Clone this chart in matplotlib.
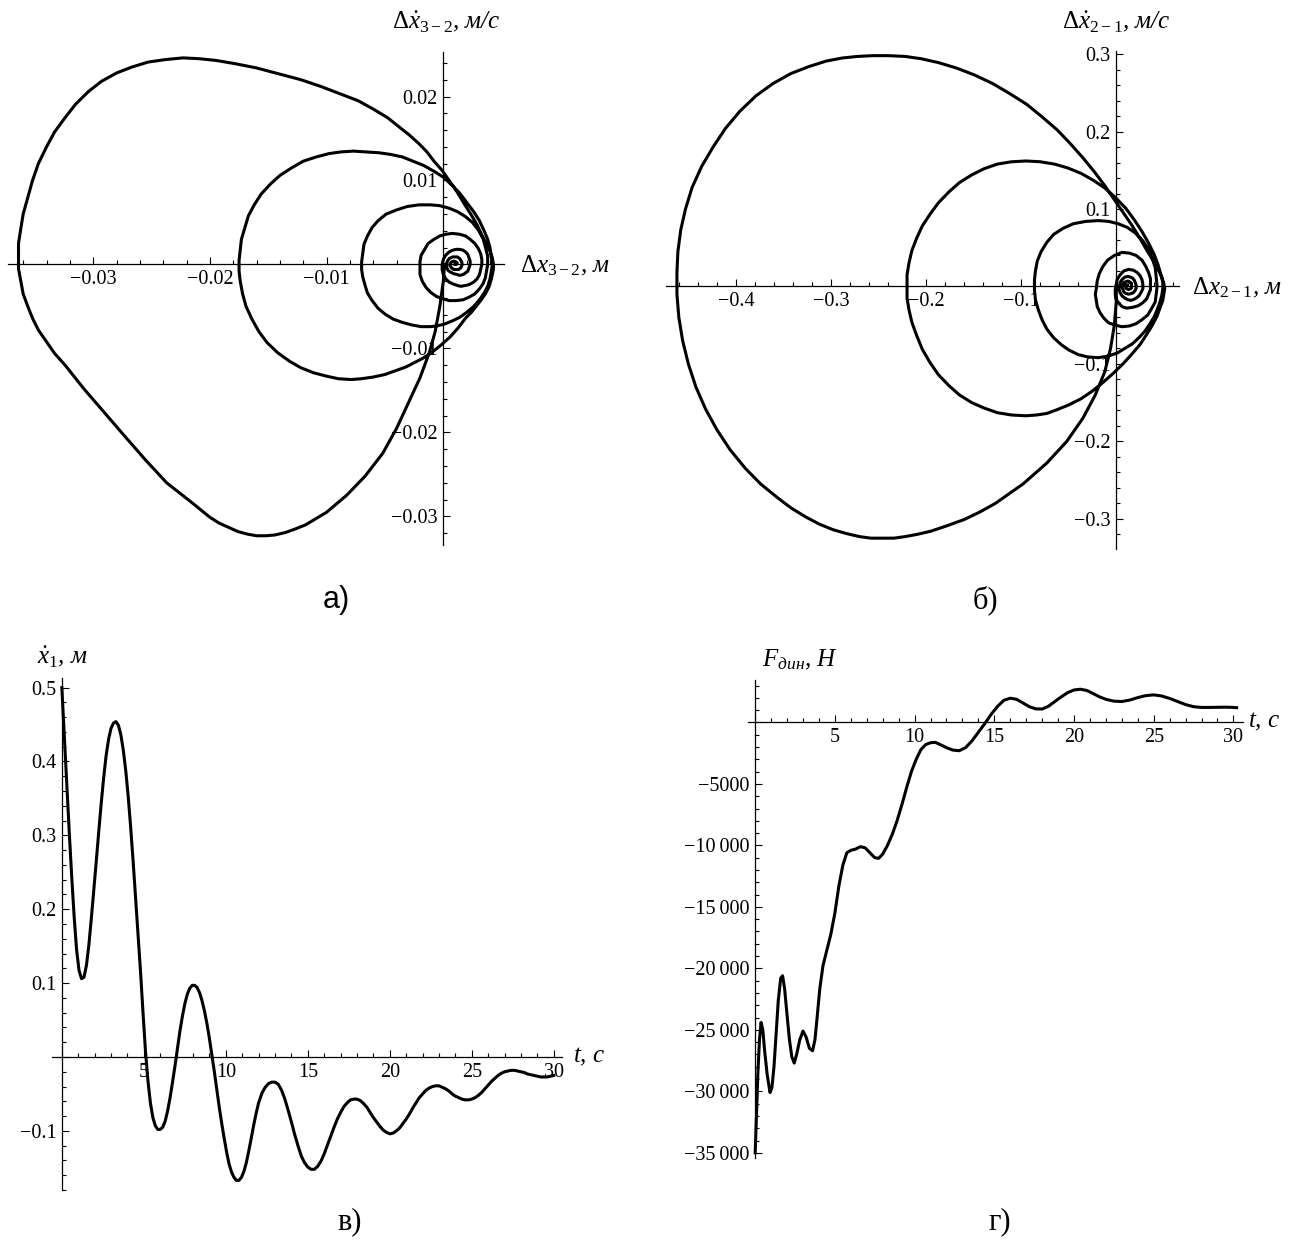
import matplotlib
matplotlib.use("Agg")
import matplotlib.pyplot as plt
from matplotlib.ticker import MultipleLocator, FuncFormatter

plt.rcParams['font.family'] = ['Liberation Serif', 'DejaVu Serif']
plt.rcParams['mathtext.fontset'] = 'custom'
plt.rcParams['mathtext.rm'] = 'Liberation Serif'
plt.rcParams['mathtext.it'] = 'Liberation Serif:italic'

# phase portrait a): (dx32, dv32) along the trajectory
phase_a = [
    (0.0001, 0.0000), (0.0000, -0.0020), (-0.0003, -0.0050), (-0.0007, -0.0080),
    (-0.0012, -0.0105), (-0.0020, -0.0135), (-0.0029, -0.0162), (-0.0040, -0.0195),
    (-0.0052, -0.0225), (-0.0067, -0.0252), (-0.0083, -0.0275), (-0.0100, -0.0295),
    (-0.0118, -0.0310), (-0.0127, -0.0315), (-0.0135, -0.0319), (-0.0144, -0.0322),
    (-0.0152, -0.0323), (-0.0160, -0.0323), (-0.0168, -0.0321), (-0.0176, -0.0318),
    (-0.0184, -0.0313), (-0.0192, -0.0308), (-0.0200, -0.0301), (-0.0215, -0.0284),
    (-0.0226, -0.0272), (-0.0237, -0.0260), (-0.0255, -0.0233), (-0.0272, -0.0206),
    (-0.0290, -0.0177), (-0.0308, -0.0148), (-0.0316, -0.0134), (-0.0324, -0.0120),
    (-0.0333, -0.0106), (-0.0340, -0.0092), (-0.0347, -0.0078), (-0.0352, -0.0064),
    (-0.0356, -0.0050), (-0.0360, -0.0035), (-0.0362, -0.0020), (-0.0364, -0.0005),
    (-0.0364, 0.0010), (-0.0364, 0.0025), (-0.0362, 0.0043), (-0.0360, 0.0060),
    (-0.0356, 0.0080), (-0.0352, 0.0100), (-0.0347, 0.0120), (-0.0340, 0.0140),
    (-0.0333, 0.0158), (-0.0324, 0.0175), (-0.0315, 0.0191), (-0.0304, 0.0206),
    (-0.0293, 0.0218), (-0.0280, 0.0228), (-0.0267, 0.0235), (-0.0253, 0.0241),
    (-0.0238, 0.0244), (-0.0223, 0.0246), (-0.0209, 0.0245), (-0.0195, 0.0243),
    (-0.0178, 0.0239), (-0.0160, 0.0234), (-0.0141, 0.0227), (-0.0122, 0.0220),
    (-0.0105, 0.0212), (-0.0088, 0.0203), (-0.0073, 0.0195), (-0.0060, 0.0185),
    (-0.0048, 0.0175), (-0.0038, 0.0164), (-0.0029, 0.0154), (-0.0021, 0.0144),
    (-0.0014, 0.0134), (-0.0008, 0.0123), (-0.0001, 0.0112), (0.0005, 0.0100),
    (0.0012, 0.0086), (0.0018, 0.0072), (0.0024, 0.0059), (0.0029, 0.0047),
    (0.0033, 0.0035), (0.0037, 0.0024), (0.0040, 0.0016), (0.0042, 0.0008),
    (0.0043, 0.0000), (0.0043, -0.0005), (0.0042, -0.0012), (0.0041, -0.0018),
    (0.0039, -0.0027), (0.0036, -0.0035), (0.0032, -0.0043), (0.0028, -0.0050),
    (0.0024, -0.0057), (0.0019, -0.0064), (0.0013, -0.0075), (0.0006, -0.0086),
    (-0.0002, -0.0096), (-0.0011, -0.0106), (-0.0018, -0.0112), (-0.0025, -0.0117),
    (-0.0032, -0.0122), (-0.0040, -0.0126), (-0.0050, -0.0131), (-0.0060, -0.0134),
    (-0.0070, -0.0136), (-0.0079, -0.0137), (-0.0090, -0.0136), (-0.0100, -0.0133),
    (-0.0111, -0.0129), (-0.0122, -0.0123), (-0.0132, -0.0115), (-0.0142, -0.0105),
    (-0.0151, -0.0093), (-0.0158, -0.0080), (-0.0164, -0.0065), (-0.0169, -0.0050),
    (-0.0172, -0.0035), (-0.0174, -0.0020), (-0.0175, -0.0008), (-0.0175, 0.0005),
    (-0.0174, 0.0018), (-0.0173, 0.0030), (-0.0170, 0.0044), (-0.0167, 0.0058),
    (-0.0162, 0.0071), (-0.0156, 0.0084), (-0.0148, 0.0096), (-0.0140, 0.0106),
    (-0.0130, 0.0115), (-0.0120, 0.0123), (-0.0109, 0.0128), (-0.0098, 0.0132),
    (-0.0088, 0.0134), (-0.0077, 0.0135), (-0.0066, 0.0134), (-0.0055, 0.0133),
    (-0.0045, 0.0131), (-0.0035, 0.0128), (-0.0026, 0.0123), (-0.0017, 0.0118),
    (-0.0008, 0.0111), (0.0000, 0.0104), (0.0007, 0.0095), (0.0014, 0.0085),
    (0.0020, 0.0074), (0.0026, 0.0063), (0.0031, 0.0052), (0.0035, 0.0040),
    (0.0038, 0.0030), (0.0040, 0.0020), (0.0041, 0.0010), (0.0042, 0.0000),
    (0.0041, -0.0009), (0.0040, -0.0017), (0.0038, -0.0026), (0.0035, -0.0034),
    (0.0031, -0.0042), (0.0026, -0.0050), (0.0020, -0.0057), (0.0014, -0.0063),
    (0.0008, -0.0067), (0.0001, -0.0071), (-0.0005, -0.0073), (-0.0011, -0.0074),
    (-0.0019, -0.0074), (-0.0027, -0.0072), (-0.0035, -0.0069), (-0.0043, -0.0065),
    (-0.0050, -0.0059), (-0.0056, -0.0052), (-0.0061, -0.0043), (-0.0065, -0.0034),
    (-0.0067, -0.0025), (-0.0069, -0.0015), (-0.0070, -0.0006), (-0.0070, 0.0003),
    (-0.0069, 0.0014), (-0.0068, 0.0024), (-0.0065, 0.0034), (-0.0061, 0.0044),
    (-0.0056, 0.0052), (-0.0049, 0.0060), (-0.0040, 0.0065), (-0.0031, 0.0069),
    (-0.0021, 0.0071), (-0.0011, 0.0071), (-0.0003, 0.0070), (0.0005, 0.0067),
    (0.0012, 0.0063), (0.0019, 0.0057), (0.0025, 0.0050), (0.0030, 0.0041),
    (0.0034, 0.0031), (0.0036, 0.0021), (0.0038, 0.0010), (0.0038, 0.0000),
    (0.0037, -0.0008), (0.0036, -0.0016), (0.0034, -0.0023), (0.0031, -0.0029),
    (0.0027, -0.0035), (0.0022, -0.0039), (0.0017, -0.0042), (0.0011, -0.0043),
    (0.0005, -0.0043), (0.0000, -0.0041), (-0.0006, -0.0038), (-0.0011, -0.0033),
    (-0.0015, -0.0027), (-0.0018, -0.0020), (-0.0020, -0.0012), (-0.0020, -0.0005),
    (-0.0020, 0.0003), (-0.0019, 0.0011), (-0.0016, 0.0018), (-0.0013, 0.0025),
    (-0.0008, 0.0030), (-0.0003, 0.0034), (0.0002, 0.0036), (0.0008, 0.0037),
    (0.0014, 0.0036), (0.0019, 0.0034), (0.0023, 0.0030), (0.0027, 0.0025),
    (0.0030, 0.0019), (0.0032, 0.0013), (0.0033, 0.0006), (0.0033, 0.0000),
    (0.0032, -0.0006), (0.0031, -0.0012), (0.0029, -0.0017), (0.0026, -0.0021),
    (0.0022, -0.0024), (0.0019, -0.0025), (0.0015, -0.0026), (0.0012, -0.0025),
    (0.0008, -0.0023), (0.0005, -0.0021), (0.0002, -0.0017), (0.0000, -0.0012),
    (-0.0001, -0.0006), (-0.0001, 0.0000), (0.0000, 0.0006), (0.0002, 0.0011),
    (0.0005, 0.0015), (0.0008, 0.0017), (0.0011, 0.0018), (0.0014, 0.0018),
    (0.0017, 0.0017), (0.0019, 0.0015), (0.0021, 0.0012), (0.0022, 0.0008),
    (0.0023, 0.0004), (0.0023, 0.0000), (0.0022, -0.0004), (0.0021, -0.0008),
    (0.0019, -0.0010), (0.0017, -0.0012), (0.0014, -0.0013), (0.0012, -0.0012),
    (0.0009, -0.0011), (0.0006, -0.0009), (0.0004, -0.0007), (0.0003, -0.0004),
    (0.0003, 0.0000), (0.0003, 0.0002), (0.0004, 0.0005), (0.0005, 0.0007),
    (0.0008, 0.0009), (0.0010, 0.0009), (0.0012, 0.0009), (0.0014, 0.0007),
    (0.0015, 0.0005), (0.0016, 0.0002), (0.0016, -0.0001), (0.0015, -0.0004),
    (0.0013, -0.0006), (0.0011, -0.0006), (0.0009, -0.0006), (0.0007, -0.0004),
    (0.0006, -0.0002), (0.0006, 0.0001), (0.0007, 0.0003), (0.0009, 0.0004),
    (0.0011, 0.0003), (0.0012, 0.0002), (0.0011, 0.0000), (0.0010, 0.0000),
]

# phase portrait b): (dx21, dv21)
phase_b = [
    (0.000, 0.000), (0.000, -0.020), (-0.002, -0.050), (-0.006, -0.080),
    (-0.012, -0.110), (-0.022, -0.140), (-0.035, -0.170), (-0.052, -0.200),
    (-0.073, -0.228), (-0.098, -0.255), (-0.127, -0.280), (-0.143, -0.291),
    (-0.160, -0.301), (-0.178, -0.309), (-0.195, -0.316), (-0.209, -0.320),
    (-0.222, -0.323), (-0.234, -0.325), (-0.245, -0.325), (-0.258, -0.325),
    (-0.270, -0.323), (-0.284, -0.319), (-0.298, -0.314), (-0.312, -0.307),
    (-0.326, -0.298), (-0.342, -0.286), (-0.357, -0.272), (-0.374, -0.255),
    (-0.390, -0.235), (-0.406, -0.211), (-0.420, -0.185), (-0.432, -0.158),
    (-0.442, -0.130), (-0.450, -0.100), (-0.456, -0.070), (-0.460, -0.040),
    (-0.462, -0.010), (-0.462, 0.018), (-0.461, 0.045), (-0.458, 0.073),
    (-0.453, 0.100), (-0.446, 0.128), (-0.436, 0.155), (-0.424, 0.180),
    (-0.411, 0.204), (-0.396, 0.226), (-0.379, 0.246), (-0.361, 0.262),
    (-0.342, 0.275), (-0.323, 0.284), (-0.305, 0.291), (-0.288, 0.295),
    (-0.272, 0.297), (-0.256, 0.298), (-0.240, 0.298), (-0.222, 0.297),
    (-0.205, 0.294), (-0.187, 0.289), (-0.168, 0.282), (-0.149, 0.273),
    (-0.130, 0.262), (-0.112, 0.249), (-0.094, 0.235), (-0.078, 0.219),
    (-0.062, 0.202), (-0.048, 0.184), (-0.035, 0.166), (-0.023, 0.148),
    (-0.012, 0.130), (-0.002, 0.112), (0.008, 0.094), (0.017, 0.078),
    (0.025, 0.062), (0.032, 0.047), (0.039, 0.033), (0.044, 0.022),
    (0.048, 0.012), (0.050, 0.004), (0.051, -0.003), (0.050, -0.010),
    (0.049, -0.018), (0.046, -0.028), (0.043, -0.038), (0.038, -0.050),
    (0.032, -0.062), (0.025, -0.075), (0.016, -0.088), (0.007, -0.100),
    (-0.003, -0.112), (-0.014, -0.124), (-0.025, -0.135), (-0.037, -0.145),
    (-0.050, -0.153), (-0.062, -0.159), (-0.073, -0.164), (-0.084, -0.166),
    (-0.095, -0.167), (-0.110, -0.166), (-0.125, -0.163), (-0.139, -0.157),
    (-0.152, -0.150), (-0.165, -0.140), (-0.176, -0.128), (-0.187, -0.114),
    (-0.196, -0.098), (-0.204, -0.081), (-0.210, -0.063), (-0.215, -0.046),
    (-0.218, -0.030), (-0.220, -0.015), (-0.220, 0.000), (-0.220, 0.015),
    (-0.218, 0.030), (-0.215, 0.046), (-0.210, 0.062), (-0.204, 0.078),
    (-0.196, 0.093), (-0.187, 0.108), (-0.176, 0.122), (-0.165, 0.134),
    (-0.152, 0.144), (-0.139, 0.152), (-0.125, 0.158), (-0.110, 0.161),
    (-0.095, 0.162), (-0.080, 0.161), (-0.065, 0.158), (-0.051, 0.153),
    (-0.037, 0.146), (-0.024, 0.137), (-0.012, 0.127), (-0.001, 0.115),
    (0.010, 0.101), (0.019, 0.086), (0.027, 0.071), (0.034, 0.056),
    (0.040, 0.041), (0.044, 0.028), (0.047, 0.015), (0.049, 0.005),
    (0.049, -0.002), (0.048, -0.011), (0.046, -0.020), (0.043, -0.030),
    (0.040, -0.039), (0.035, -0.049), (0.030, -0.058), (0.024, -0.066),
    (0.017, -0.074), (0.009, -0.080), (0.001, -0.086), (-0.009, -0.090),
    (-0.019, -0.092), (-0.030, -0.091), (-0.040, -0.088), (-0.050, -0.082),
    (-0.058, -0.075), (-0.066, -0.066), (-0.073, -0.055), (-0.078, -0.043),
    (-0.082, -0.030), (-0.085, -0.017), (-0.086, -0.005), (-0.086, 0.008),
    (-0.085, 0.020), (-0.083, 0.033), (-0.079, 0.045), (-0.073, 0.057),
    (-0.066, 0.067), (-0.056, 0.075), (-0.045, 0.081), (-0.032, 0.084),
    (-0.019, 0.085), (-0.008, 0.084), (0.002, 0.081), (0.012, 0.076),
    (0.020, 0.069), (0.028, 0.059), (0.034, 0.048), (0.038, 0.036),
    (0.041, 0.024), (0.042, 0.012), (0.043, 0.000), (0.042, -0.010),
    (0.041, -0.020), (0.037, -0.029), (0.033, -0.037), (0.027, -0.043),
    (0.021, -0.048), (0.014, -0.051), (0.006, -0.052), (-0.001, -0.050),
    (-0.008, -0.047), (-0.013, -0.041), (-0.017, -0.034), (-0.020, -0.026),
    (-0.021, -0.018), (-0.022, -0.010), (-0.021, -0.003), (-0.020, 0.007),
    (-0.018, 0.016), (-0.014, 0.026), (-0.009, 0.034), (-0.002, 0.040),
    (0.006, 0.044), (0.014, 0.043), (0.021, 0.040), (0.027, 0.034),
    (0.031, 0.026), (0.034, 0.018), (0.036, 0.010), (0.036, 0.003),
    (0.036, -0.004), (0.034, -0.010), (0.032, -0.016), (0.028, -0.021),
    (0.023, -0.025), (0.017, -0.027), (0.011, -0.028), (0.006, -0.026),
    (0.003, -0.022), (0.000, -0.017), (-0.001, -0.011), (-0.001, -0.004),
    (0.000, 0.002), (0.001, 0.009), (0.004, 0.015), (0.008, 0.020),
    (0.013, 0.022), (0.018, 0.021), (0.022, 0.018), (0.025, 0.014),
    (0.027, 0.009), (0.028, 0.003), (0.028, -0.003), (0.026, -0.008),
    (0.024, -0.012), (0.021, -0.015), (0.018, -0.017), (0.015, -0.018),
    (0.012, -0.017), (0.009, -0.015), (0.006, -0.012), (0.004, -0.008),
    (0.003, -0.004), (0.003, 0.000), (0.004, 0.004), (0.005, 0.007),
    (0.007, 0.010), (0.009, 0.012), (0.012, 0.013), (0.015, 0.012),
    (0.017, 0.011), (0.019, 0.008), (0.020, 0.005), (0.021, 0.001),
    (0.021, -0.002), (0.020, -0.005), (0.018, -0.008), (0.016, -0.009),
    (0.013, -0.010), (0.010, -0.009), (0.008, -0.007), (0.007, -0.004),
    (0.006, -0.001), (0.007, 0.002), (0.008, 0.005), (0.010, 0.006),
    (0.012, 0.007), (0.014, 0.006), (0.016, 0.004), (0.016, 0.001),
    (0.016, -0.002), (0.015, -0.003), (0.013, -0.004), (0.011, -0.003),
    (0.010, -0.002), (0.010, 0.000), (0.010, 0.002), (0.012, 0.002),
]

# c) velocity of mass 1
t_c = [0.0, 0.15, 0.3, 0.45, 0.6, 0.75, 0.9, 1.05, 1.2, 1.35, 1.5, 1.65, 1.8,
       1.95, 2.1, 2.25, 2.4, 2.55, 2.7, 2.85, 3.0, 3.15, 3.3, 3.45, 3.6, 3.75,
       3.9, 4.05, 4.2, 4.35, 4.5, 4.65, 4.8, 4.95, 5.1, 5.25, 5.4, 5.55, 5.7,
       5.85, 6.0, 6.15, 6.3, 6.45, 6.6, 6.75, 6.9, 7.05, 7.2, 7.35, 7.5, 7.65,
       7.8, 7.95, 8.1, 8.25, 8.4, 8.55, 8.7, 8.85, 9.0, 9.15, 9.3, 9.45, 9.6,
       9.75, 9.9, 10.05, 10.2, 10.35, 10.5, 10.65, 10.8, 10.95, 11.1, 11.25,
       11.4, 11.55, 11.7, 11.85, 12.0, 12.2, 12.4, 12.6, 12.8, 13.0, 13.2, 13.4,
       13.6, 13.8, 14.0, 14.2, 14.4, 14.6, 14.8, 15.0, 15.2, 15.4, 15.6, 15.8,
       16.0, 16.2, 16.4, 16.6, 16.8, 17.0, 17.2, 17.4, 17.6, 17.8, 18.0, 18.2,
       18.4, 18.6, 18.8, 19.0, 19.2, 19.4, 19.6, 19.8, 20.0, 20.2, 20.4, 20.6,
       20.8, 21.0, 21.2, 21.4, 21.6, 21.8, 22.0, 22.2, 22.4, 22.6, 22.8, 23.0,
       23.2, 23.4, 23.6, 23.8, 24.0, 24.2, 24.4, 24.6, 24.8, 25.0, 25.2, 25.4,
       25.6, 25.8, 26.0, 26.2, 26.4, 26.6, 26.8, 27.0, 27.2, 27.4, 27.6, 27.8,
       28.0, 28.2, 28.4, 28.6, 28.8, 29.0, 29.2, 29.4, 29.6, 29.8, 30.0]
v_c = [0.50, 0.435, 0.37, 0.305, 0.245, 0.19, 0.145, 0.117, 0.106, 0.108,
       0.124, 0.152, 0.188, 0.226, 0.265, 0.305, 0.343, 0.378, 0.408, 0.43,
       0.445, 0.452, 0.454, 0.449, 0.436, 0.415, 0.387, 0.352, 0.31, 0.264,
       0.215, 0.165, 0.115, 0.06, 0.008, -0.032, -0.062, -0.082, -0.093,
       -0.098, -0.098, -0.095, -0.087, -0.073, -0.055, -0.034, -0.012, 0.012,
       0.035, 0.055, 0.072, 0.085, 0.093, 0.097, 0.097, 0.094, 0.087, 0.076,
       0.062, 0.045, 0.025, 0.003, -0.02, -0.044, -0.068, -0.09, -0.11, -0.129,
       -0.145, -0.156, -0.163, -0.167, -0.167, -0.163, -0.155, -0.143, -0.127,
       -0.11, -0.092, -0.076, -0.062, -0.049, -0.041, -0.036, -0.034, -0.034,
       -0.037, -0.045, -0.057, -0.072, -0.088, -0.105, -0.12, -0.134, -0.143,
       -0.149, -0.152, -0.152, -0.148, -0.141, -0.131, -0.119, -0.107, -0.095,
       -0.084, -0.075, -0.067, -0.062, -0.058, -0.057, -0.057, -0.059, -0.063,
       -0.068, -0.075, -0.082, -0.088, -0.094, -0.099, -0.102, -0.104, -0.103,
       -0.1, -0.096, -0.09, -0.084, -0.077, -0.069, -0.062, -0.055, -0.05,
       -0.045, -0.042, -0.04, -0.039, -0.039, -0.041, -0.043, -0.046, -0.05,
       -0.053, -0.055, -0.057, -0.058, -0.058, -0.057, -0.055, -0.052, -0.048,
       -0.043, -0.038, -0.033, -0.029, -0.025, -0.022, -0.02, -0.019, -0.018,
       -0.018, -0.019, -0.02, -0.021, -0.023, -0.024, -0.025, -0.026, -0.027,
       -0.027, -0.027, -0.026, -0.025]

# d) dynamic force
t_d = [0.0, 0.08, 0.17, 0.27, 0.37, 0.48, 0.6, 0.75, 0.93, 1.05, 1.18, 1.32,
       1.45, 1.6, 1.72, 1.85, 2.0, 2.15, 2.3, 2.45, 2.6, 2.8, 3.0, 3.2, 3.4,
       3.6, 3.75, 3.9, 4.05, 4.25, 4.5, 4.75, 5.0, 5.25, 5.5, 5.75, 6.0, 6.3,
       6.6, 6.9, 7.2, 7.5, 7.75, 8.0, 8.3, 8.6, 8.9, 9.2, 9.5, 9.8, 10.1, 10.4,
       10.7, 11.0, 11.3, 11.6, 12.0, 12.4, 12.8, 13.2, 13.6, 14.0, 14.4, 14.8,
       15.2, 15.6, 16.0, 16.4, 16.8, 17.2, 17.6, 18.0, 18.4, 18.8, 19.2, 19.6,
       20.0, 20.4, 20.8, 21.2, 21.6, 22.0, 22.5, 23.0, 23.5, 24.0, 24.5, 25.0,
       25.5, 26.0, 26.5, 27.0, 27.5, 28.0, 28.5, 29.0, 29.5, 30.0, 30.2]
f_d = [-35000, -32000, -28500, -25800, -24400, -25000, -26800, -28600, -30100,
       -29700, -28000, -25200, -22600, -20800, -20600, -21700, -23800, -25800,
       -27200, -27700, -27000, -25800, -25100, -25600, -26500, -26700, -25800,
       -23800, -21700, -19800, -18500, -17200, -15500, -13300, -11600, -10600,
       -10400, -10300, -10100, -10200, -10600, -11000, -11050, -10700, -10000,
       -9100, -8000, -6700, -5300, -4000, -3000, -2200, -1800, -1650, -1620,
       -1800, -2050, -2250, -2300, -2050, -1500, -800, -100, 650, 1300, 1800,
       1970, 1880, 1580, 1280, 1100, 1090, 1320, 1700, 2080, 2420, 2640, 2700,
       2600, 2350, 2080, 1880, 1730, 1700, 1820, 2020, 2180, 2240, 2150, 1950,
       1700, 1450, 1280, 1220, 1220, 1230, 1240, 1220, 1200]

W, H = 1307, 1256


def box(x0, x1, y0, y1):
    # pixel box (top origin) -> figure fraction rect
    return [x0 / W, 1 - y1 / H, (x1 - x0) / W, (y1 - y0) / H]


def fmt_num(dec, group=False):
    def f(v, pos):
        if abs(v) < 1e-12:
            return ''
        if group:
            s = '%d' % abs(round(v))
            if len(s) > 4:
                s = s[:-3] + '\u2009' + s[-3:]
        else:
            s = '%.*f' % (dec, abs(v))
        return ('\u2212' if v < 0 else '') + s
    return FuncFormatter(f)


def style_axes(ax, xlim, ylim, xmaj, xmin, ymaj, ymin, xfmt, yfmt):
    ax.set_xlim(*xlim)
    ax.set_ylim(*ylim)
    ax.spines['left'].set_position('zero')
    ax.spines['bottom'].set_position('zero')
    ax.spines['top'].set_visible(False)
    ax.spines['right'].set_visible(False)
    for s in ('left', 'bottom'):
        ax.spines[s].set_linewidth(0.9)
    ax.xaxis.set_major_locator(MultipleLocator(xmaj))
    ax.xaxis.set_minor_locator(MultipleLocator(xmin))
    ax.yaxis.set_major_locator(MultipleLocator(ymaj))
    ax.yaxis.set_minor_locator(MultipleLocator(ymin))
    ax.xaxis.set_major_formatter(xfmt)
    ax.yaxis.set_major_formatter(yfmt)
    ax.tick_params(which='both', direction='in', width=0.8, colors='black',
                   labelsize=14.5, pad=4)
    ax.tick_params(which='major', length=5)
    ax.tick_params(which='minor', length=3)
    ax.patch.set_alpha(0)


fig = plt.figure(figsize=(W / 100, H / 100), dpi=100)

# a)
ax_a = fig.add_axes(box(8, 504, 52, 545))
ax_a.plot([p[0] for p in phase_a], [p[1] for p in phase_a], color='black',
          lw=2.2, zorder=3, solid_joinstyle='round')
style_axes(ax_a, (-0.0373, 0.0052), (-0.0334, 0.0253), 0.01, 0.002, 0.01, 0.002,
           fmt_num(2), fmt_num(2))

# b)
ax_b = fig.add_axes(box(666, 1179, 51, 549))
ax_b.plot([p[0] for p in phase_b], [p[1] for p in phase_b], color='black',
          lw=2.2, zorder=3, solid_joinstyle='round')
style_axes(ax_b, (-0.4735, 0.066), (-0.339, 0.304), 0.1, 0.02, 0.1, 0.02,
           fmt_num(1), fmt_num(1))

# c)
ax_c = fig.add_axes(box(52, 562, 678, 1190))
ax_c.plot(t_c, v_c, color='black', lw=2.2, zorder=3, solid_joinstyle='round')
style_axes(ax_c, (-0.6, 30.5), (-0.18, 0.513), 5, 1, 0.1, 0.02,
           fmt_num(0), fmt_num(1))

# d)
ax_d = fig.add_axes(box(748, 1243, 680, 1158))
ax_d.plot(t_d, f_d, color='black', lw=2.2, zorder=3, solid_joinstyle='round')
style_axes(ax_d, (-0.45, 30.6), (-35420, 3450), 5, 1, 5000, 1000,
           fmt_num(0), fmt_num(0, group=True))


def ftext(x, y, s, **kw):
    fig.text(x / W, 1 - y / H, s, **kw)


lab = dict(fontsize=18, style='italic', va='center')
ftext(446, 22, r'$\Delta\dot{x}_{3-2}$, м/с', ha='center', **lab)
ftext(520, 266, r'$\Delta x_{3-2}$, м', ha='left', **lab)
ftext(1116, 22, r'$\Delta\dot{x}_{2-1}$, м/с', ha='center', **lab)
ftext(1192, 288, r'$\Delta x_{2-1}$, м', ha='left', **lab)
ftext(62, 657, r'$\dot{x}_1$, м', ha='center', **lab)
ftext(573, 1057, r'$t$, с', ha='left', **lab)
ftext(800, 660, r'$F_{\mathit{дин}}$, Н', ha='center', **lab)
ftext(1248, 722, r'$t$, с', ha='left', **lab)

ftext(336, 600, 'а)', ha='center', va='center', fontsize=22,
      family='Liberation Sans')
ftext(985, 600, 'б)', ha='center', va='center', fontsize=22)
ftext(350, 1222, 'в)', ha='center', va='center', fontsize=22)
ftext(1000, 1222, 'г)', ha='center', va='center', fontsize=22)

fig.savefig('out.png', dpi=100, facecolor='white')
